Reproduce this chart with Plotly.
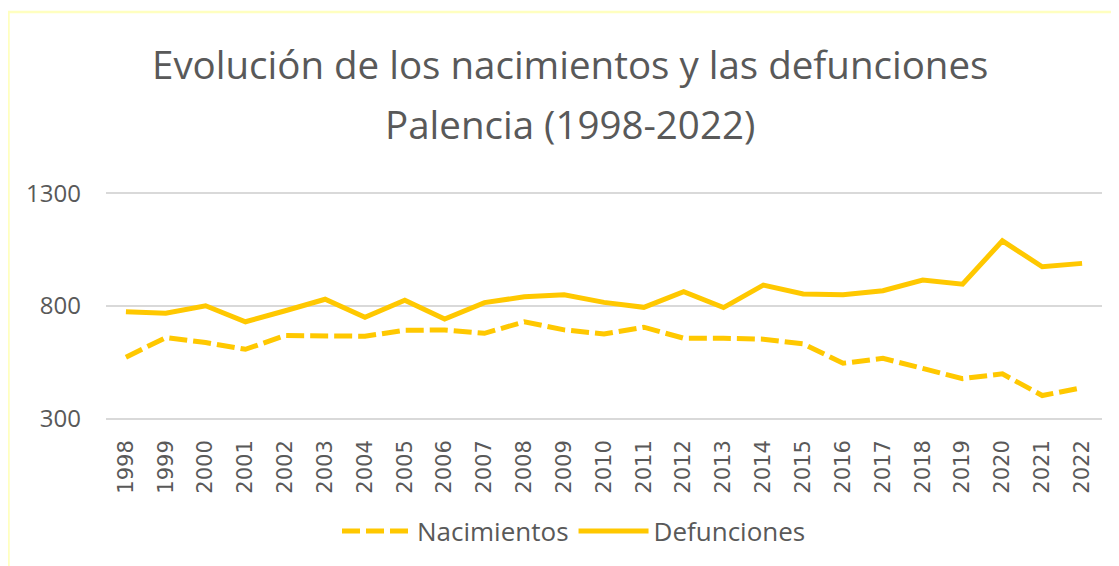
import plotly.graph_objects as go

years = [str(y) for y in range(1998, 2023)]
nacimientos = [573, 660, 638, 608, 669, 669, 666, 692, 694, 679, 730, 694, 676, 706,
               657, 657, 653, 632, 546, 568, 522, 478, 499, 403, 438]
defunciones = [775, 768, 801, 730, 779, 830, 750, 826, 742, 815, 841, 850, 816, 794,
               863, 793, 893, 853, 850, 868, 915, 897, 1089, 974, 989]
title_line1 = "Evolución de los nacimientos y las defunciones"
title_line2 = "Palencia (1998-2022)"
y_ticks = [300, 800, 1300]

color = "#FFC800"
font_main = "Open Sans"
text_color = "#595959"

# page body has an 8px default margin; figure sized to fit the window
W, H = 1111, 558
L, R, T, B = 98, 17, 183, 145
pw, ph = W - L - R, H - T - B


def px(xf):
    return (xf - L) / pw


def py(yf):
    return (H - B - yf) / ph


fig = go.Figure()
fig.add_trace(go.Scatter(x=years, y=nacimientos, name="Nacimientos", mode="lines",
                         line=dict(color=color, width=5, dash="18px,6px")))
fig.add_trace(go.Scatter(x=years, y=defunciones, name="Defunciones", mode="lines",
                         line=dict(color=color, width=5)))

fig.update_layout(
    width=W, height=H,
    margin=dict(l=L, r=R, t=T, b=B),
    paper_bgcolor="white", plot_bgcolor="white",
    showlegend=True,
    legend=dict(orientation="h", x=px(566), xanchor="center", y=py(523), yanchor="middle",
                font=dict(family=font_main, size=26, color=text_color),
                itemwidth=70, tracegroupgap=0),
    xaxis=dict(type="category", range=[-0.5, 24.5], tickangle=-90, showgrid=False,
               zeroline=False, showline=False, ticks="",
               tickfont=dict(family="DejaVu Sans", size=21, color=text_color),
               ticklabelstandoff=14),
    yaxis=dict(range=[290, 1310], tickvals=y_ticks, showgrid=True, gridcolor="#D9D9D9",
               gridwidth=1.5, zeroline=False, showline=False, ticks="",
               tickfont=dict(family=font_main, size=24, color=text_color),
               ticklabelstandoff=24),
    annotations=[
        dict(text=title_line1, xref="paper", yref="paper", x=px(562), y=py(56),
             xanchor="center", yanchor="middle", showarrow=False,
             font=dict(family=font_main, size=38.5, color=text_color)),
        dict(text=title_line2, xref="paper", yref="paper", x=px(562), y=py(116),
             xanchor="center", yanchor="middle", showarrow=False,
             font=dict(family=font_main, size=38.5, color=text_color)),
    ],
    shapes=[
        dict(type="rect", xref="paper", yref="paper",
             x0=px(0.5), x1=px(W + 10), y0=py(H + 10), y1=py(4),
             line=dict(color="#FFFFC0", width=2.5), fillcolor="rgba(0,0,0,0)",
             layer="below"),
    ],
)

fig.write_html("out.html")
